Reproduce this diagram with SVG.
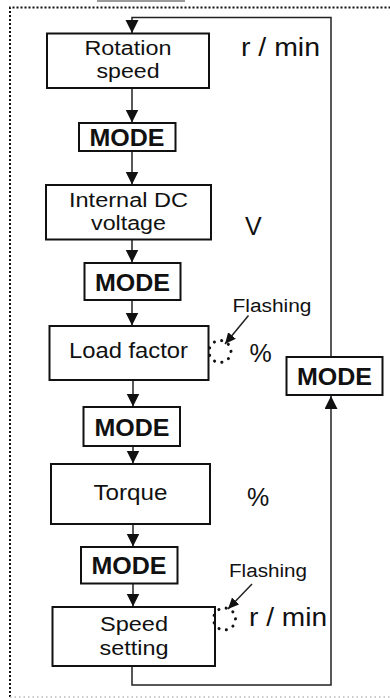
<svg xmlns="http://www.w3.org/2000/svg" width="390" height="698" viewBox="0 0 390 698">
<style>
.box{fill:#fff;stroke:#111;stroke-width:2}
.ln{fill:none;stroke:#222;stroke-width:1.5}
.t{font-family:"Liberation Sans",Arial,sans-serif;font-size:22px;fill:#111;text-anchor:middle}
.t2{font-family:"Liberation Sans",Arial,sans-serif;font-size:20px;fill:#111;text-anchor:middle}
.m{font-family:"Liberation Sans",Arial,sans-serif;font-size:24px;font-weight:bold;fill:#111;text-anchor:middle}
.u{font-family:"Liberation Sans",Arial,sans-serif;font-size:25px;fill:#111}
.f{font-family:"Liberation Sans",Arial,sans-serif;font-size:18px;fill:#111}
.dot{fill:none;stroke:#111;stroke-width:3;stroke-linecap:round;stroke-dasharray:0.1 7.5}
.frame{fill:none;stroke:#111;stroke-width:2;stroke-dasharray:2 2}
</style>
<defs>
<marker id="ah" markerUnits="userSpaceOnUse" markerWidth="14" markerHeight="14" refX="13" refY="6.5" orient="auto"><path d="M0,0 L13,6.5 L0,13 z" fill="#111"/></marker>
<marker id="as" markerUnits="userSpaceOnUse" markerWidth="12" markerHeight="12" refX="11" refY="5" orient="auto"><path d="M0,0 L11,5 L0,10 z" fill="#111"/></marker>
</defs>
<line x1="97" y1="1" x2="185" y2="1" stroke="#999" stroke-width="2"/>
<g id="frame">
<path class="frame" d="M10,697 L10,7.5 L390,7.5"/>
<line x1="10" y1="697" x2="390" y2="697" stroke="#bbb" stroke-width="1.5" stroke-dasharray="1.5 3"/>
</g>
<g id="connectors">
<path class="ln" d="M331,357 L331,17.5 L132,17.5 L132,33" marker-end="url(#ah)"/>
<path class="ln" d="M132,666 L132,685 L331,685 L331,396" marker-end="url(#ah)"/>
<line class="ln" x1="132" y1="88" x2="132" y2="122.5" marker-end="url(#ah)"/>
<line class="ln" x1="132" y1="151" x2="132" y2="184.5" marker-end="url(#ah)"/>
<line class="ln" x1="132" y1="239.5" x2="132" y2="262.5" marker-end="url(#ah)"/>
<line class="ln" x1="132" y1="300" x2="132" y2="325.5" marker-end="url(#ah)"/>
<line class="ln" x1="133" y1="380" x2="133" y2="406.5" marker-end="url(#ah)"/>
<line class="ln" x1="133" y1="446" x2="133" y2="463.5" marker-end="url(#ah)"/>
<line class="ln" x1="133" y1="524" x2="133" y2="546.5" marker-end="url(#ah)"/>
<line class="ln" x1="133" y1="583.5" x2="133" y2="606.5" marker-end="url(#ah)"/>
<line class="ln" x1="248.5" y1="315.5" x2="225" y2="344" marker-end="url(#as)"/>
<line class="ln" x1="252" y1="584" x2="228" y2="609" marker-end="url(#as)"/>
</g>
<g id="n1">
<rect class="box" x="47" y="33.5" width="162" height="54.5"/>
<text class="t2" x="128" y="55" textLength="87" lengthAdjust="spacingAndGlyphs">Rotation</text>
<text class="t2" x="128" y="78" textLength="63" lengthAdjust="spacingAndGlyphs">speed</text>
</g>
<text class="u" x="241" y="56" textLength="79" lengthAdjust="spacingAndGlyphs">r / min</text>
<g id="m1">
<rect class="box" x="79" y="123" width="96.5" height="28"/>
<text class="m" x="127" y="146" textLength="75" lengthAdjust="spacingAndGlyphs">MODE</text>
</g>
<g id="n2">
<rect class="box" x="46" y="185" width="165" height="54.5"/>
<text class="t2" x="128.5" y="206.5" textLength="119" lengthAdjust="spacingAndGlyphs">Internal DC</text>
<text class="t2" x="128.5" y="230" textLength="75" lengthAdjust="spacingAndGlyphs">voltage</text>
</g>
<text class="u" x="245" y="234.5">V</text>
<g id="m2">
<rect class="box" x="84.5" y="263" width="96" height="37"/>
<text class="m" x="132.5" y="290.5" textLength="75" lengthAdjust="spacingAndGlyphs">MODE</text>
</g>
<g id="n3">
<rect class="box" x="49.5" y="326" width="159" height="54"/>
<text class="t" x="128.5" y="358" textLength="119" lengthAdjust="spacingAndGlyphs">Load factor</text>
</g>
<text class="f" x="232.5" y="312" textLength="79" lengthAdjust="spacingAndGlyphs">Flashing</text>
<circle class="dot" cx="220" cy="351.5" r="11"/>
<text class="u" x="249.5" y="361.5">%</text>
<g id="m3">
<rect class="box" x="83.5" y="407" width="96.5" height="39"/>
<text class="m" x="132" y="435.5" textLength="75" lengthAdjust="spacingAndGlyphs">MODE</text>
</g>
<g id="m5">
<rect class="box" x="286.5" y="357" width="96" height="38"/>
<text class="m" x="334.5" y="385" textLength="75" lengthAdjust="spacingAndGlyphs">MODE</text>
</g>
<g id="n4">
<rect class="box" x="51" y="464" width="159" height="60"/>
<text class="t" x="130.5" y="500" textLength="74" lengthAdjust="spacingAndGlyphs">Torque</text>
</g>
<text class="u" x="247" y="505.5">%</text>
<g id="m4">
<rect class="box" x="81" y="547" width="96.5" height="36.5"/>
<text class="m" x="129" y="574" textLength="75" lengthAdjust="spacingAndGlyphs">MODE</text>
</g>
<text class="f" x="229" y="577" textLength="78" lengthAdjust="spacingAndGlyphs">Flashing</text>
<g id="n5">
<rect class="box" x="52.5" y="607" width="162.5" height="59"/>
<text class="t2" x="134" y="631" textLength="68" lengthAdjust="spacingAndGlyphs">Speed</text>
<text class="t2" x="134" y="654.5" textLength="69" lengthAdjust="spacingAndGlyphs">setting</text>
</g>
<circle class="dot" cx="224.5" cy="619" r="11"/>
<text class="u" x="249" y="625.5" textLength="78" lengthAdjust="spacingAndGlyphs">r / min</text>
</svg>
